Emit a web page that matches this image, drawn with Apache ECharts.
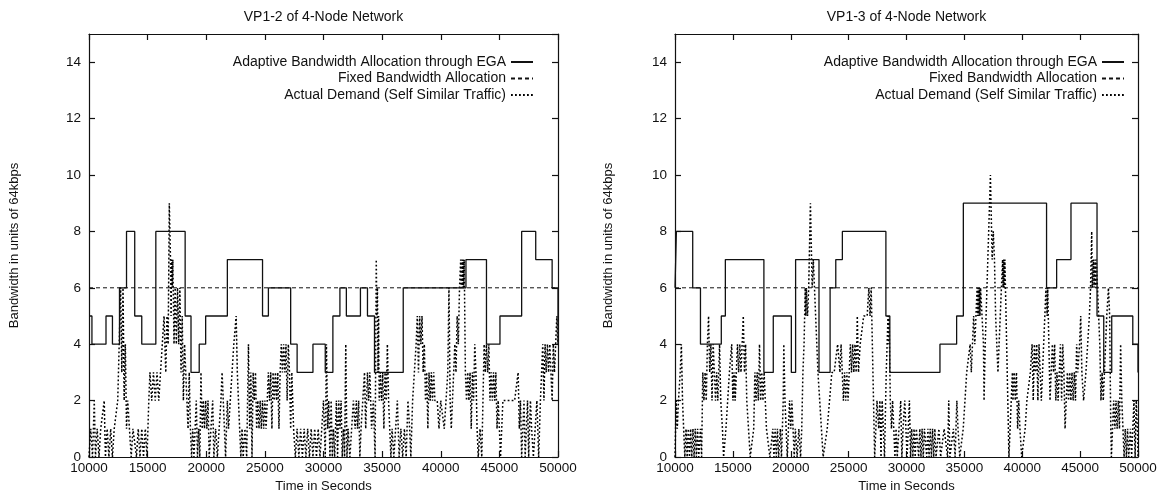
<!DOCTYPE html>
<html>
<head>
<meta charset="utf-8">
<script src="https://cdn.jsdelivr.net/npm/echarts/dist/echarts.min.js"></script>
<style>
  html, body { margin: 0; padding: 0; background: #fff; }
  #chart { width: 1170px; height: 500px; }
</style>
</head>
<body>
<div id="chart"></div>
<script>
// chart titles and legend names
var titles = ['VP1-2 of 4-Node Network', 'VP1-3 of 4-Node Network']
var seriesNames = [
  'Adaptive Bandwidth Allocation through EGA',
  'Fixed Bandwidth Allocation',
  'Actual Demand (Self Similar Traffic)'
]
var fixedLevel = 6

// VP1-2 : EGA allocation, [time, value] (value holds until next time)
var ega12 = [
  [10000, 5], [10250, 4], [11450, 5], [12000, 4], [12600, 6], [13200, 8], [13900, 5],
  [14500, 4], [15700, 8], [18200, 5], [18700, 3], [19400, 4], [19950, 5], [21800, 7],
  [24800, 5], [25300, 6], [27200, 4], [27750, 3], [29100, 4], [30150, 3], [30800, 5],
  [31400, 6], [31950, 5], [33150, 6], [33750, 5], [34350, 3], [36800, 6], [42150, 7],
  [43900, 4], [45050, 5], [46900, 8], [48100, 7], [49500, 6], [50000, 6], [50000, 4]
]

// VP1-2 : actual demand
var dem12 = [
  [10000, 0], [10150, 1], [10300, 0], [10450, 2], [10550, 0], [10700, 1], [10850, 0], [11000, 1],
  [11150, 1], [11300, 2], [11400, 0], [11550, 1], [11700, 0], [11850, 1], [12000, 0], [12150, 1],
  [12300, 1], [12450, 2], [12600, 2], [12700, 6], [12800, 3], [12900, 6], [13000, 2], [13100, 4],
  [13200, 1], [13300, 2], [13450, 1], [13600, 0], [13750, 1], [13900, 1], [14050, 0], [14200, 1],
  [14350, 0], [14500, 1], [14650, 0], [14800, 1], [14950, 0], [15100, 2], [15200, 3], [15350, 2],
  [15500, 3], [15650, 2], [15800, 3], [15950, 2], [16100, 3], [16250, 4], [16400, 5], [16550, 3],
  [16650, 5], [16750, 4], [16850, 9], [16950, 7], [17000, 5], [17050, 7], [17100, 6], [17150, 7],
  [17250, 4], [17350, 6], [17450, 4], [17550, 6], [17650, 4], [17750, 6], [17850, 3], [17950, 5],
  [18050, 2], [18150, 4], [18250, 3], [18350, 2], [18450, 1], [18550, 3], [18650, 1], [18750, 0],
  [18850, 1], [18950, 0], [19050, 1], [19150, 2], [19250, 0], [19350, 1], [19450, 0], [19550, 3],
  [19650, 1], [19750, 2], [19850, 1], [19950, 2], [20050, 1], [20150, 2], [20250, 0], [20400, 1],
  [20550, 2], [20650, 0], [20800, 1], [20950, 0], [21100, 1], [21250, 2], [21350, 3], [21450, 2],
  [21550, 1], [21650, 0], [21800, 2], [21900, 1], [22050, 2], [22200, 3], [22350, 4], [22550, 5],
  [22650, 3], [22750, 2], [22850, 1], [22950, 0], [23050, 1], [23150, 0], [23300, 1], [23450, 0],
  [23600, 4], [23700, 1], [23800, 3], [23900, 0], [24000, 3], [24100, 2], [24200, 3], [24300, 1],
  [24400, 2], [24500, 1], [24600, 2], [24700, 1], [24800, 2], [24900, 1], [25000, 2], [25100, 1],
  [25200, 2], [25300, 3], [25400, 2], [25500, 3], [25600, 1], [25700, 3], [25800, 2], [25900, 3],
  [26000, 2], [26100, 3], [26200, 1], [26300, 3], [26400, 4], [26500, 3], [26600, 4], [26700, 3],
  [26800, 4], [26900, 2], [27000, 4], [27100, 3], [27200, 1], [27300, 3], [27450, 1], [27600, 0],
  [27750, 1], [27900, 0], [28050, 1], [28200, 0], [28350, 1], [28500, 0], [28650, 1], [28800, 0],
  [28950, 1], [29100, 0], [29250, 1], [29400, 0], [29550, 1], [29700, 0], [29850, 1], [30000, 2],
  [30150, 0], [30250, 4], [30350, 1], [30450, 2], [30550, 0], [30650, 2], [30750, 0], [30850, 1],
  [30950, 0], [31100, 2], [31200, 0], [31300, 2], [31400, 1], [31500, 2], [31600, 0], [31700, 1],
  [31800, 0], [31900, 4], [32000, 0], [32100, 1], [32250, 0], [32400, 1], [32550, 2], [32700, 1],
  [32800, 2], [32900, 1], [33000, 2], [33100, 0], [33200, 1], [33350, 2], [33500, 3], [33600, 1],
  [33750, 3], [33850, 2], [33950, 3], [34100, 1], [34250, 2], [34400, 0], [34500, 7], [34550, 5],
  [34600, 6], [34650, 3], [34700, 5], [34750, 2], [34850, 3], [34950, 2], [35050, 3], [35150, 1],
  [35250, 3], [35350, 2], [35450, 4], [35550, 2], [35650, 1], [35750, 0], [35850, 1], [36000, 0],
  [36150, 1], [36300, 2], [36450, 0], [36600, 1], [36750, 0], [36900, 1], [37050, 0], [37200, 2],
  [37350, 1], [37450, 0], [37600, 2], [37750, 3], [37900, 4], [38000, 5], [38100, 3], [38200, 5],
  [38300, 4], [38400, 5], [38500, 3], [38600, 4], [38700, 2], [38800, 3], [38900, 1], [39000, 3],
  [39100, 2], [39200, 3], [39300, 2], [39400, 3], [39500, 2], [39600, 2], [39700, 2], [39850, 1],
  [40000, 2], [40150, 2], [40300, 1], [40450, 2], [40600, 3], [40700, 6], [40800, 2], [40900, 1],
  [41000, 2], [41100, 3], [41200, 4], [41300, 3], [41400, 5], [41500, 4], [41600, 6], [41700, 7],
  [41750, 6], [41800, 7], [41850, 6], [41900, 7], [41950, 6], [42000, 7], [42100, 3], [42200, 2],
  [42300, 3], [42400, 2], [42500, 3], [42600, 1], [42700, 3], [42800, 2], [42900, 4], [43000, 3],
  [43100, 1], [43200, 0], [43350, 1], [43500, 0], [43600, 2], [43700, 4], [43800, 3], [43900, 4],
  [44000, 3], [44100, 4], [44200, 2], [44300, 3], [44400, 2], [44500, 3], [44600, 2], [44700, 3],
  [44800, 1], [44900, 2], [45000, 1], [45100, 0], [45200, 1], [45300, 2], [45500, 2], [45700, 2],
  [45900, 2], [46100, 2], [46300, 2], [46450, 2], [46600, 3], [46700, 1], [46800, 2], [46900, 0],
  [47000, 1], [47100, 2], [47200, 0], [47300, 1], [47400, 2], [47500, 0], [47650, 2], [47750, 1],
  [47900, 0], [48050, 1], [48200, 2], [48350, 0], [48500, 2], [48600, 3], [48700, 4], [48800, 2],
  [48900, 4], [49000, 3], [49100, 4], [49200, 3], [49300, 4], [49400, 4], [49500, 2], [49600, 4],
  [49700, 3], [49800, 4], [49900, 5], [50000, 4]
]

// VP1-3 : EGA allocation
var ega13 = [
  [10000, 6], [10120, 8], [11530, 6], [12200, 4], [14000, 5], [14350, 7], [17680, 3],
  [18490, 5], [20050, 3], [20420, 7], [22440, 3], [23400, 6], [23890, 7], [24460, 8],
  [28220, 5], [28560, 3], [32890, 4], [34330, 5], [34910, 9], [42100, 6], [42970, 7],
  [44210, 9], [46460, 5], [47040, 3], [47730, 5], [49550, 4], [50000, 4], [50000, 3]
]

// VP1-3 : actual demand
var dem13 = [
  [10000, 0], [10100, 2], [10200, 1], [10300, 2], [10450, 3], [10550, 4], [10650, 2], [10750, 1],
  [10850, 0], [10950, 1], [11050, 0], [11150, 1], [11250, 0], [11350, 1], [11450, 0], [11550, 1],
  [11650, 0], [11750, 1], [11850, 0], [11950, 1], [12050, 0], [12200, 1], [12300, 0], [12400, 3],
  [12500, 2], [12600, 3], [12700, 2], [12800, 4], [12900, 5], [13000, 3], [13100, 4], [13200, 2],
  [13300, 4], [13400, 3], [13500, 2], [13600, 3], [13700, 2], [13850, 4], [13950, 2], [14100, 1],
  [14200, 0], [14400, 1], [14550, 2], [14700, 3], [14900, 4], [15000, 2], [15050, 3], [15100, 2],
  [15150, 3], [15200, 2], [15300, 3], [15400, 4], [15500, 3], [15600, 4], [15700, 3], [15800, 4],
  [15900, 5], [16000, 3], [16100, 4], [16200, 2], [16350, 1], [16500, 0], [16650, 0], [16800, 1],
  [16900, 3], [17000, 2], [17100, 3], [17200, 2], [17300, 4], [17400, 2], [17500, 3], [17600, 2],
  [17700, 3], [17800, 2], [17900, 1], [18050, 1], [18200, 0], [18350, 0], [18450, 1], [18550, 0],
  [18650, 1], [18750, 0], [18850, 1], [18950, 0], [19100, 1], [19200, 0], [19350, 2], [19400, 4],
  [19500, 2], [19600, 1], [19700, 0], [19800, 1], [19900, 2], [20000, 1], [20100, 2], [20200, 1],
  [20300, 0], [20400, 1], [20550, 0], [20700, 1], [20850, 0], [20950, 1], [21050, 3], [21150, 4],
  [21200, 5], [21250, 6], [21300, 5], [21350, 6], [21450, 5], [21550, 6], [21650, 6], [21700, 9],
  [21800, 7], [21850, 6], [21950, 7], [22050, 6], [22150, 5], [22250, 4], [22350, 3], [22500, 2],
  [22650, 1], [22800, 0], [22950, 0], [23150, 1], [23350, 2], [23550, 3], [23750, 3], [23900, 3],
  [24050, 4], [24150, 4], [24250, 3], [24350, 4], [24450, 3], [24550, 2], [24650, 3], [24750, 2],
  [24850, 3], [24950, 2], [25050, 3], [25150, 4], [25250, 3], [25350, 4], [25450, 3], [25550, 4],
  [25650, 3], [25750, 5], [25850, 3], [26000, 4], [26150, 4], [26300, 5], [26450, 5], [26600, 5],
  [26750, 6], [26850, 5], [26950, 6], [27050, 6], [27150, 2], [27250, 0], [27350, 1], [27450, 2],
  [27600, 1], [27700, 2], [27800, 0], [27900, 2], [28000, 1], [28100, 0], [28250, 3], [28400, 5],
  [28450, 4], [28500, 5], [28600, 2], [28700, 1], [28800, 2], [28900, 1], [29000, 0], [29100, 1],
  [29200, 0], [29350, 1], [29500, 2], [29600, 0], [29700, 1], [29850, 2], [29950, 1], [30050, 0],
  [30150, 1], [30250, 2], [30350, 0], [30450, 1], [30550, 0], [30650, 1], [30750, 0], [30850, 1],
  [30950, 1], [31050, 0], [31150, 1], [31250, 0], [31350, 1], [31450, 0], [31550, 1], [31650, 1],
  [31750, 0], [31850, 1], [31950, 0], [32050, 1], [32150, 0], [32250, 1], [32350, 0], [32450, 1],
  [32550, 0], [32700, 0], [32800, 1], [32950, 0], [33100, 0], [33250, 1], [33400, 1], [33550, 0],
  [33650, 2], [33750, 0], [33900, 0], [34050, 1], [34200, 0], [34350, 2], [34450, 1], [34600, 0],
  [34750, 0], [34900, 1], [35050, 2], [35200, 3], [35350, 3], [35500, 4], [35600, 3], [35700, 4],
  [35800, 5], [35900, 4], [36000, 5], [36100, 6], [36150, 5], [36200, 6], [36250, 5], [36300, 6],
  [36350, 5], [36400, 6], [36500, 6], [36650, 4], [36700, 2], [36800, 4], [36950, 6], [37100, 8],
  [37250, 10], [37400, 7], [37500, 8], [37600, 7], [37700, 5], [37800, 4], [37900, 3], [38000, 4],
  [38100, 5], [38200, 6], [38300, 7], [38350, 6], [38400, 7], [38450, 6], [38500, 7], [38550, 6],
  [38650, 4], [38750, 2], [38850, 0], [38950, 1], [39050, 2], [39150, 3], [39200, 2], [39300, 3],
  [39400, 2], [39500, 3], [39600, 1], [39700, 2], [39800, 1], [39950, 0], [40100, 0], [40250, 1],
  [40400, 2], [40550, 2], [40700, 3], [40850, 4], [40950, 2], [41050, 4], [41150, 3], [41250, 4],
  [41350, 2], [41450, 4], [41550, 3], [41650, 2], [41750, 3], [41850, 4], [41950, 5], [42050, 6],
  [42150, 5], [42200, 6], [42300, 4], [42400, 2], [42500, 3], [42600, 4], [42700, 3], [42800, 4],
  [42900, 2], [43000, 3], [43100, 2], [43200, 3], [43300, 4], [43400, 2], [43500, 4], [43600, 3],
  [43700, 1], [43800, 2], [43900, 3], [44000, 2], [44100, 3], [44200, 2], [44300, 3], [44400, 2],
  [44500, 3], [44600, 2], [44700, 4], [44800, 3], [44950, 4], [45050, 5], [45150, 3], [45300, 2],
  [45400, 2], [45500, 3], [45650, 4], [45800, 5], [45900, 6], [46000, 8], [46050, 6], [46150, 7],
  [46200, 6], [46300, 7], [46350, 6], [46400, 7], [46500, 6], [46600, 5], [46700, 4], [46800, 2],
  [46900, 3], [47000, 2], [47100, 3], [47200, 4], [47300, 5], [47450, 6], [47550, 5], [47650, 1],
  [47700, 0], [47800, 1], [47900, 2], [48000, 1], [48100, 2], [48200, 1], [48300, 2], [48400, 1],
  [48500, 4], [48600, 2], [48700, 1], [48800, 0], [48900, 1], [49000, 0], [49100, 1], [49200, 0],
  [49350, 1], [49450, 0], [49550, 1], [49650, 2], [49750, 0], [49850, 2], [49950, 1], [50000, 0]
]

var FONT = "'Liberation Sans', Arial, Helvetica, sans-serif"
var INK = '#111'

function plainNumber(v) {
  return String(v)
}

function xAxisFor(gridIndex, isTop) {
  return {
    type: 'value',
    gridIndex: gridIndex,
    position: isTop ? 'top' : 'bottom',
    min: 10000,
    max: 50000,
    interval: 5000,
    name: isTop ? '' : 'Time in Seconds',
    nameLocation: 'middle',
    nameGap: 16,
    nameTextStyle: { color: INK, fontSize: 13, fontFamily: FONT },
    axisLine: { show: true, onZero: false, lineStyle: { color: INK, width: 1.2 } },
    axisTick: { show: true, inside: true, length: 6, lineStyle: { color: INK, width: 1.2 } },
    axisLabel: { show: !isTop, color: INK, fontSize: 13.5, fontFamily: FONT, margin: 4, formatter: plainNumber },
    splitLine: { show: false }
  }
}

function yAxisFor(gridIndex, isRight, nameGap) {
  return {
    type: 'value',
    gridIndex: gridIndex,
    position: isRight ? 'right' : 'left',
    min: 0,
    max: 15,
    interval: 2,
    name: isRight ? '' : 'Bandwidth in units of 64kbps',
    nameLocation: 'middle',
    nameGap: nameGap,
    nameTextStyle: { color: INK, fontSize: 13, fontFamily: FONT },
    axisLine: { show: true, onZero: false, lineStyle: { color: INK, width: 1.2 } },
    axisTick: { show: true, inside: true, length: 6, lineStyle: { color: INK, width: 1.2 } },
    axisLabel: { show: !isRight, showMaxLabel: false, color: INK, fontSize: 13.5, fontFamily: FONT, margin: 8, formatter: plainNumber },
    splitLine: { show: false }
  }
}

function seriesFor(axisIndex, ega, dem) {
  return [
    {
      name: seriesNames[0],
      type: 'line',
      xAxisIndex: axisIndex,
      yAxisIndex: axisIndex,
      step: 'end',
      symbol: 'none',
      data: ega,
      lineStyle: { color: INK, width: 1.3 },
      itemStyle: { color: INK },
      z: 3
    },
    {
      name: seriesNames[1],
      type: 'line',
      xAxisIndex: axisIndex,
      yAxisIndex: axisIndex,
      symbol: 'none',
      data: [[10000, fixedLevel], [50000, fixedLevel]],
      lineStyle: { color: INK, width: 1, type: [4, 3] },
      itemStyle: { color: INK },
      z: 2
    },
    {
      name: seriesNames[2],
      type: 'line',
      xAxisIndex: axisIndex,
      yAxisIndex: axisIndex,
      symbol: 'none',
      data: dem,
      lineStyle: { color: '#000', width: 1.5, type: [1.8, 2.2] },
      itemStyle: { color: INK },
      z: 1
    }
  ]
}

function legendFor(right) {
  return {
    orient: 'vertical',
    right: right,
    top: 55,
    align: 'right',
    itemWidth: 22,
    itemHeight: 14,
    itemGap: 2.5,
    padding: 0,
    selectedMode: false,
    itemStyle: { opacity: 0 },
    textStyle: { color: INK, fontSize: 14, fontFamily: FONT },
    data: seriesNames
  }
}

var chart = echarts.init(document.getElementById('chart'), null, { renderer: 'canvas' })
chart.setOption({
  backgroundColor: '#fff',
  animation: false,
  title: [
    { text: titles[0], left: 323.5, top: 10, textAlign: 'center', padding: 0,
      textStyle: { color: INK, fontSize: 14, fontWeight: 'normal', fontFamily: FONT } },
    { text: titles[1], left: 906.5, top: 10, textAlign: 'center', padding: 0,
      textStyle: { color: INK, fontSize: 14, fontWeight: 'normal', fontFamily: FONT } }
  ],
  legend: [legendFor(636), legendFor(45)],
  grid: [
    { left: 89, top: 34, width: 469, height: 423 },
    { left: 675, top: 34, width: 463, height: 423 }
  ],
  xAxis: [xAxisFor(0, false), xAxisFor(0, true), xAxisFor(1, false), xAxisFor(1, true)],
  yAxis: [yAxisFor(0, false, 68), yAxisFor(0, true, 0), yAxisFor(1, false, 60), yAxisFor(1, true, 0)],
  series: seriesFor(0, ega12, dem12).concat(seriesFor(2, ega13, dem13))
})
</script>
</body>
</html>
